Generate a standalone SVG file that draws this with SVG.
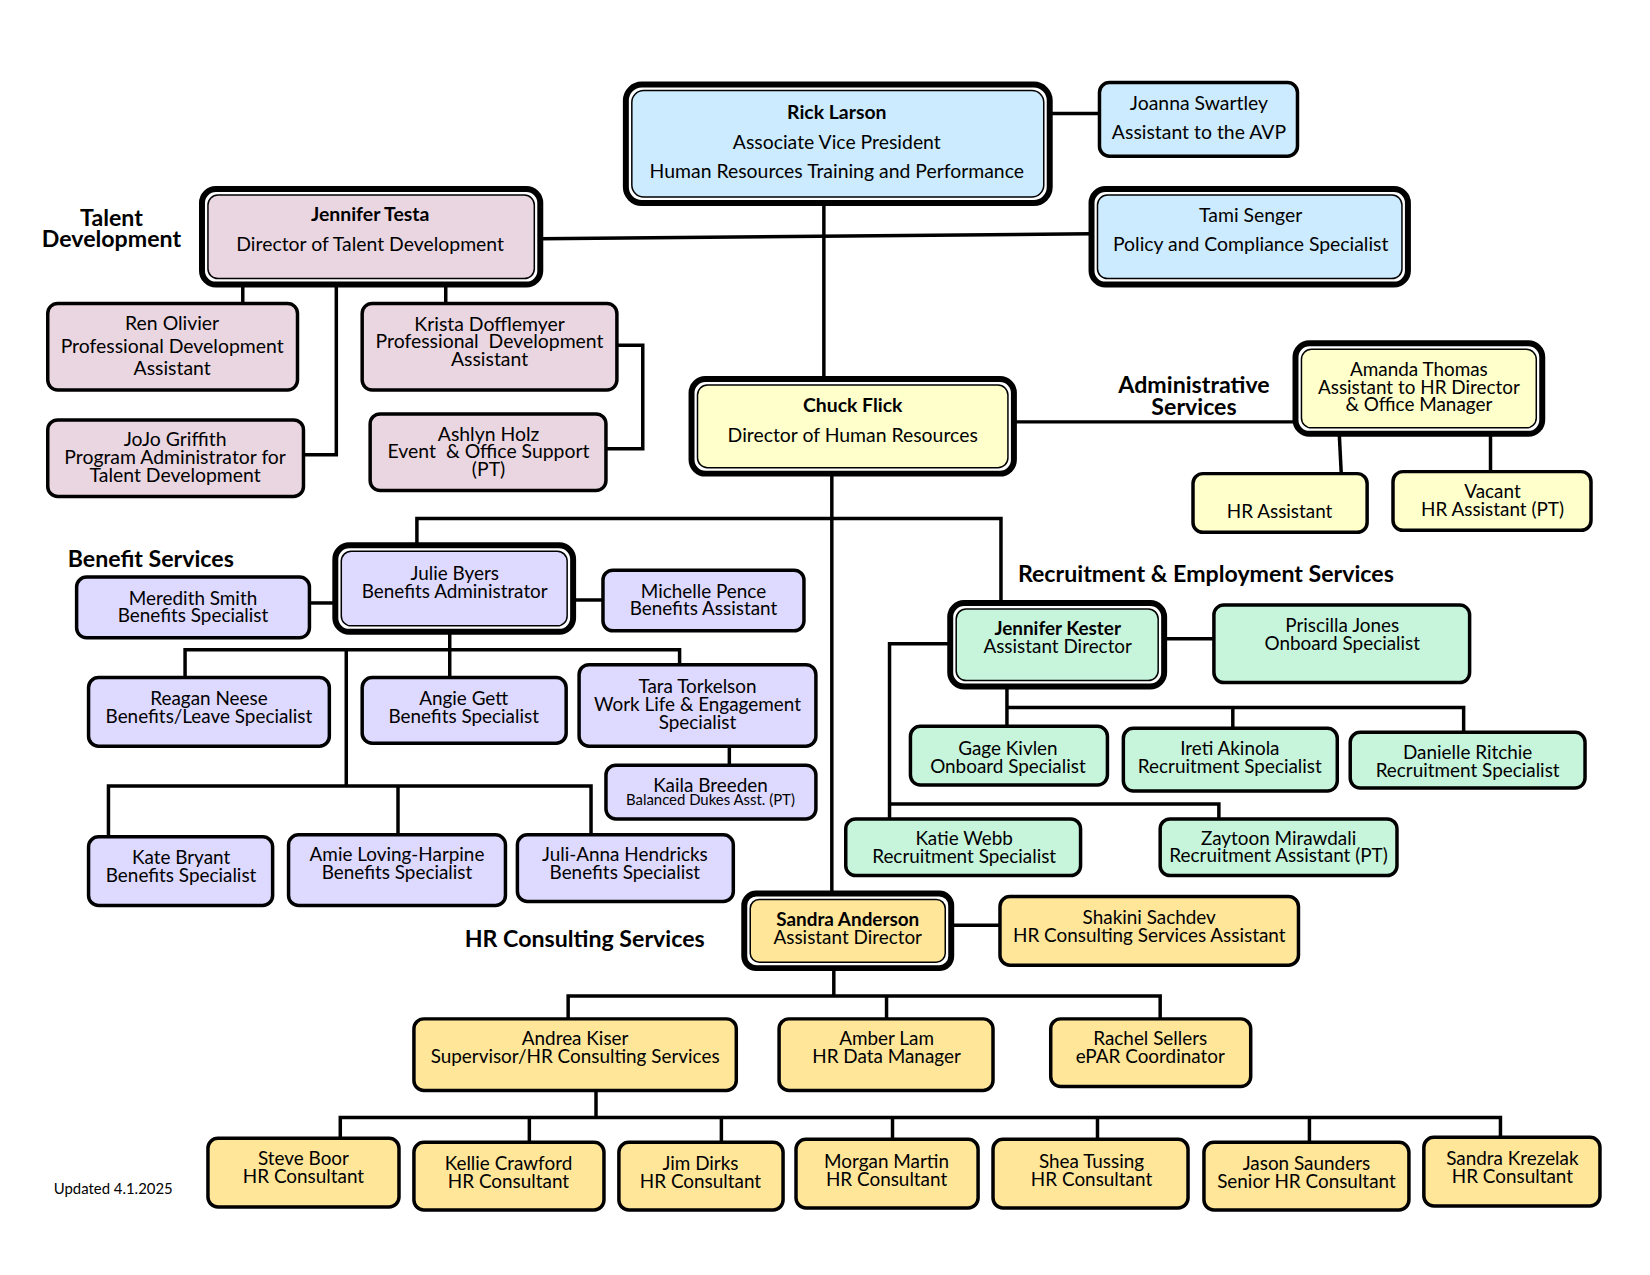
<svg xmlns="http://www.w3.org/2000/svg" width="1650" height="1275" viewBox="0 0 1650 1275">
<style>
text{font-family:Lato,"Liberation Sans",sans-serif;font-size:19px;fill:#000;text-anchor:middle;dominant-baseline:central}
#rick text,#joanna text,#tami text,#testa text,#chuck text,#ren text,#krista text,#jojo text,#ashlyn text{font-size:19.5px}
.bold{font-weight:bold}
.lbl{font-weight:bold;font-size:23.3px}
.lbll{font-weight:bold;font-size:23.3px;text-anchor:start}
.sm{font-size:15px}
.upd{font-size:15px;text-anchor:start}
.box{stroke:#000;stroke-width:3.5}
.outer{fill:#fff;stroke:#000;stroke-width:6}
.inner{stroke:#000;stroke-width:1.5}
.blue{fill:#CCEBFF}
.pink{fill:#EAD6E0}
.yel{fill:#FFFFCC}
.lav{fill:#DDD9FF}
.mint{fill:#C6F5DC}
.gold{fill:#FFE699}
#connectors path{fill:none;stroke:#000;stroke-width:3.5}
</style>
<rect width="1650" height="1275" fill="#fff"/>
<g transform="scale(0.995)">
<g id="connectors">
<path d="M1055 114H1105"/>
<path d="M543 240L1097 235"/>
<path d="M828 204V381"/>
<path d="M244 286V305"/>
<path d="M448 286V305"/>
<path d="M338 286V457H305"/>
<path d="M620 347H646V451H609"/>
<path d="M1019 424H1302"/>
<path d="M1346 436L1348 476"/>
<path d="M1498 436V474"/>
<path d="M836 476V897"/>
<path d="M419 548V521H1006V606"/>
<path d="M311 606H337"/>
<path d="M576 603H606"/>
<path d="M452 635V681"/>
<path d="M186 681V653H683V668"/>
<path d="M348 653V790"/>
<path d="M109 841V790H594V839"/>
<path d="M400 790V839"/>
<path d="M733 750V769"/>
<path d="M1170 642H1220"/>
<path d="M955 647H894V823"/>
<path d="M894 808H1225V823"/>
<path d="M1012 690V730"/>
<path d="M1012 711H1471V736"/>
<path d="M1239 711V732"/>
<path d="M956 930H1005"/>
<path d="M838 973V1001"/>
<path d="M571 1024V1001H1166V1024"/>
<path d="M891 1001V1024"/>
<path d="M599 1096V1123"/>
<path d="M342 1144V1123H1508V1143"/>
<path d="M532 1123V1148"/>
<path d="M725 1123V1148"/>
<path d="M897 1123V1145"/>
<path d="M1103 1123V1145"/>
<path d="M1316 1123V1148"/>
</g>
<g id="labels">
<text class="lbl" x="112" y="218">Talent</text>
<text class="lbl" x="112" y="239">Development</text>
<text class="lbl" x="1200" y="386">Administrative</text>
<text class="lbl" x="1200" y="408">Services</text>
<text class="lbll" x="68" y="561">Benefit Services</text>
<text class="lbll" x="1023" y="576">Recruitment &amp; Employment Services</text>
<text class="lbll" x="467" y="943">HR Consulting Services</text>
<text class="upd" x="54" y="1194">Updated 4.1.2025</text>
</g>
<g id="rick">
<rect class="outer" x="629" y="85" width="426" height="119" rx="16"/>
<rect class="inner blue" x="635" y="91" width="414" height="107" rx="12"/>
<text class="bold" x="841" y="112">Rick Larson</text>
<text x="841" y="142">Associate Vice President</text>
<text x="841" y="171">Human Resources Training and Performance</text>
</g>
<g id="joanna">
<rect class="box blue" x="1105" y="83" width="199" height="74" rx="10"/>
<text x="1205" y="103">Joanna Swartley</text>
<text x="1205" y="132">Assistant to the AVP</text>
</g>
<g id="tami">
<rect class="outer" x="1097" y="190" width="318" height="96" rx="14"/>
<rect class="inner blue" x="1103" y="196" width="306" height="84" rx="10"/>
<text x="1257" y="216">Tami Senger</text>
<text x="1257" y="245">Policy and Compliance Specialist</text>
</g>
<g id="testa">
<rect class="outer" x="203" y="190" width="340" height="96" rx="14"/>
<rect class="inner pink" x="209" y="196" width="328" height="84" rx="10"/>
<text class="bold" x="372" y="215">Jennifer Testa</text>
<text x="372" y="245">Director of Talent Development</text>
</g>
<g id="ren">
<rect class="box pink" x="48" y="305" width="251" height="87" rx="10"/>
<text x="173" y="324">Ren Olivier</text>
<text x="173" y="347">Professional Development</text>
<text x="173" y="369">Assistant</text>
</g>
<g id="krista">
<rect class="box pink" x="364" y="305" width="256" height="87" rx="10"/>
<text x="492" y="325">Krista Dofflemyer</text>
<text x="492" y="342">Professional&#160; Development</text>
<text x="492" y="360">Assistant</text>
</g>
<g id="jojo">
<rect class="box pink" x="48" y="422" width="257" height="77" rx="10"/>
<text x="176" y="441">JoJo Griffith</text>
<text x="176" y="459">Program Administrator for</text>
<text x="176" y="477">Talent Development</text>
</g>
<g id="ashlyn">
<rect class="box pink" x="372" y="416" width="237" height="77" rx="10"/>
<text x="491" y="436">Ashlyn Holz</text>
<text x="491" y="453">Event&#160; &amp; Office Support</text>
<text x="491" y="471">(PT)</text>
</g>
<g id="chuck">
<rect class="outer" x="695" y="381" width="324" height="95" rx="14"/>
<rect class="inner yel" x="701" y="387" width="312" height="83" rx="10"/>
<text class="bold" x="857" y="407">Chuck Flick</text>
<text x="857" y="437">Director of Human Resources</text>
</g>
<g id="amanda">
<rect class="outer" x="1302" y="345" width="248" height="91" rx="14"/>
<rect class="inner yel" x="1308" y="351" width="236" height="79" rx="10"/>
<text x="1426" y="370">Amanda Thomas</text>
<text x="1426" y="388">Assistant to HR Director</text>
<text x="1426" y="406">&amp; Office Manager</text>
</g>
<g id="hrassistant">
<rect class="box yel" x="1199" y="476" width="175" height="59" rx="10"/>
<text x="1286" y="513">HR Assistant</text>
</g>
<g id="vacant">
<rect class="box yel" x="1400" y="474" width="199" height="59" rx="10"/>
<text x="1500" y="493">Vacant</text>
<text x="1500" y="511">HR Assistant (PT)</text>
</g>
<g id="julie">
<rect class="outer" x="337" y="548" width="239" height="87" rx="14"/>
<rect class="inner lav" x="343" y="554" width="227" height="75" rx="10"/>
<text x="457" y="575">Julie Byers</text>
<text x="457" y="593">Benefits Administrator</text>
</g>
<g id="meredith">
<rect class="box lav" x="77" y="580" width="234" height="61" rx="10"/>
<text x="194" y="600">Meredith Smith</text>
<text x="194" y="618">Benefits Specialist</text>
</g>
<g id="michelle">
<rect class="box lav" x="606" y="573" width="202" height="61" rx="10"/>
<text x="707" y="593">Michelle Pence</text>
<text x="707" y="611">Benefits Assistant</text>
</g>
<g id="reagan">
<rect class="box lav" x="89" y="681" width="242" height="69" rx="10"/>
<text x="210" y="701">Reagan Neese</text>
<text x="210" y="719">Benefits/Leave Specialist</text>
</g>
<g id="angie">
<rect class="box lav" x="364" y="681" width="205" height="66" rx="10"/>
<text x="466" y="701">Angie Gett</text>
<text x="466" y="719">Benefits Specialist</text>
</g>
<g id="tara">
<rect class="box lav" x="582" y="668" width="238" height="82" rx="10"/>
<text x="701" y="689">Tara Torkelson</text>
<text x="701" y="707">Work Life &amp; Engagement</text>
<text x="701" y="725">Specialist</text>
</g>
<g id="kaila">
<rect class="box lav" x="609" y="769" width="211" height="54" rx="10"/>
<text x="714" y="788">Kaila Breeden</text>
<text class="sm" x="714" y="803">Balanced Dukes Asst. (PT)</text>
</g>
<g id="kate">
<rect class="box lav" x="89" y="841" width="185" height="69" rx="10"/>
<text x="182" y="861">Kate Bryant</text>
<text x="182" y="879">Benefits Specialist</text>
</g>
<g id="amie">
<rect class="box lav" x="290" y="839" width="218" height="71" rx="10"/>
<text x="399" y="858">Amie Loving-Harpine</text>
<text x="399" y="876">Benefits Specialist</text>
</g>
<g id="julianna">
<rect class="box lav" x="520" y="839" width="217" height="67" rx="10"/>
<text x="628" y="858">Juli-Anna Hendricks</text>
<text x="628" y="876">Benefits Specialist</text>
</g>
<g id="kester">
<rect class="outer" x="955" y="606" width="215" height="84" rx="14"/>
<rect class="inner mint" x="961" y="612" width="203" height="72" rx="10"/>
<text class="bold" x="1063" y="631">Jennifer Kester</text>
<text x="1063" y="649">Assistant Director</text>
</g>
<g id="priscilla">
<rect class="box mint" x="1220" y="608" width="257" height="78" rx="10"/>
<text x="1349" y="628">Priscilla Jones</text>
<text x="1349" y="646">Onboard Specialist</text>
</g>
<g id="gage">
<rect class="box mint" x="915" y="730" width="198" height="59" rx="10"/>
<text x="1013" y="751">Gage Kivlen</text>
<text x="1013" y="769">Onboard Specialist</text>
</g>
<g id="ireti">
<rect class="box mint" x="1129" y="732" width="215" height="63" rx="10"/>
<text x="1236" y="751">Ireti Akinola</text>
<text x="1236" y="769">Recruitment Specialist</text>
</g>
<g id="danielle">
<rect class="box mint" x="1357" y="736" width="236" height="56" rx="10"/>
<text x="1475" y="755">Danielle Ritchie</text>
<text x="1475" y="773">Recruitment Specialist</text>
</g>
<g id="katie">
<rect class="box mint" x="850" y="823" width="236" height="57" rx="10"/>
<text x="969" y="842">Katie Webb</text>
<text x="969" y="860">Recruitment Specialist</text>
</g>
<g id="zaytoon">
<rect class="box mint" x="1166" y="823" width="238" height="57" rx="10"/>
<text x="1285" y="842">Zaytoon Mirawdali</text>
<text x="1285" y="859">Recruitment Assistant (PT)</text>
</g>
<g id="sandraa">
<rect class="outer" x="748" y="898" width="208" height="75" rx="12"/>
<rect class="inner gold" x="754" y="904" width="196" height="63" rx="9"/>
<text class="bold" x="852" y="923">Sandra Anderson</text>
<text x="852" y="941">Assistant Director</text>
</g>
<g id="shakini">
<rect class="box gold" x="1005" y="901" width="300" height="69" rx="10"/>
<text x="1155" y="921">Shakini Sachdev</text>
<text x="1155" y="939">HR Consulting Services Assistant</text>
</g>
<g id="andrea">
<rect class="box gold" x="416" y="1024" width="324" height="72" rx="10"/>
<text x="578" y="1043">Andrea Kiser</text>
<text x="578" y="1061">Supervisor/HR Consulting Services</text>
</g>
<g id="amber">
<rect class="box gold" x="783" y="1024" width="215" height="72" rx="10"/>
<text x="891" y="1043">Amber Lam</text>
<text x="891" y="1061">HR Data Manager</text>
</g>
<g id="rachel">
<rect class="box gold" x="1056" y="1024" width="201" height="68" rx="10"/>
<text x="1156" y="1043">Rachel Sellers</text>
<text x="1156" y="1061">ePAR Coordinator</text>
</g>
<g id="steve">
<rect class="box gold" x="209" y="1144" width="192" height="69" rx="10"/>
<text x="305" y="1163">Steve Boor</text>
<text x="305" y="1181">HR Consultant</text>
</g>
<g id="kellie">
<rect class="box gold" x="416" y="1148" width="191" height="68" rx="10"/>
<text x="511" y="1168">Kellie Crawford</text>
<text x="511" y="1186">HR Consultant</text>
</g>
<g id="jim">
<rect class="box gold" x="622" y="1148" width="165" height="68" rx="10"/>
<text x="704" y="1168">Jim Dirks</text>
<text x="704" y="1186">HR Consultant</text>
</g>
<g id="morgan">
<rect class="box gold" x="800" y="1145" width="183" height="69" rx="10"/>
<text x="891" y="1166">Morgan Martin</text>
<text x="891" y="1184">HR Consultant</text>
</g>
<g id="shea">
<rect class="box gold" x="998" y="1145" width="196" height="69" rx="10"/>
<text x="1097" y="1166">Shea Tussing</text>
<text x="1097" y="1184">HR Consultant</text>
</g>
<g id="jason">
<rect class="box gold" x="1210" y="1148" width="206" height="68" rx="10"/>
<text x="1313" y="1168">Jason Saunders</text>
<text x="1313" y="1186">Senior HR Consultant</text>
</g>
<g id="krezelak">
<rect class="box gold" x="1431" y="1143" width="177" height="69" rx="10"/>
<text x="1520" y="1163">Sandra Krezelak</text>
<text x="1520" y="1181">HR Consultant</text>
</g>
</g>
</svg>
